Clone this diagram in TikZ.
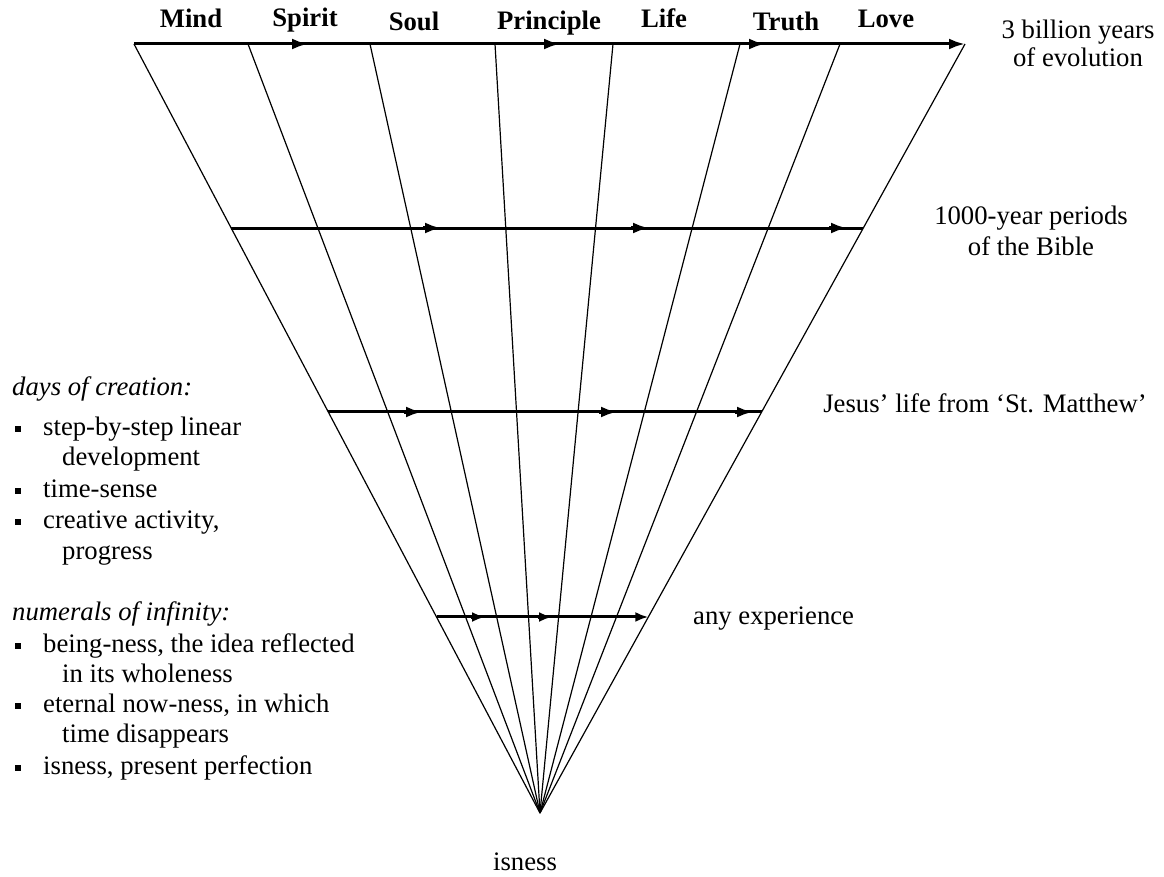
\documentclass[tikz,border=0pt]{standalone}
\usepackage{fontspec}
\setmainfont{Liberation Serif}
\usetikzlibrary{arrows.meta,calc}
\begin{document}
\begin{tikzpicture}[x=1pt,y=-1pt,
  fan/.style={line width=1.2pt},
  hline/.style={line width=3pt},
  tipA/.style={-{Latex[length=16pt,width=11pt]}},
  tipB/.style={-{Latex[length=13pt,width=10pt]}},
  txt/.style={font=\fontsize{26.7}{30}\selectfont, inner sep=0pt},
  lbl/.style={font=\fontsize{26.7}{30}\selectfont\bfseries, inner sep=0pt, anchor=base},
  itl/.style={font=\fontsize{26.7}{30}\selectfont\itshape, inner sep=0pt, anchor=base west},
  item/.style={txt, anchor=base west},
  bul/.style={fill=black, inner sep=0pt, minimum size=6.5pt, draw=none}
]
\useasboundingbox (0,0) rectangle (1164,877);

% apex and top points
\coordinate (A) at (540,813);
\coordinate (T1) at (134,44);
\coordinate (T2) at (248,44);
\coordinate (T3) at (370,44);
\coordinate (T4) at (495,44);
\coordinate (T5) at (613,44);
\coordinate (T6) at (740,44);
\coordinate (T7) at (840,44);
\coordinate (T8) at (965,44);

% fan lines
\foreach \i in {1,...,8} { \draw[fan] (A) -- (T\i); }

% top line
\coordinate (a11) at (308,44);
\coordinate (a12) at (560,44);
\coordinate (a13) at (765,44);
\draw[hline,tipA] (T1) -- (T8);
\foreach \p in {a11,a12,a13} { \draw[hline,tipA] ($(\p)+(-18,0)$) -- (\p); }

% second line
\coordinate (L2) at ($(T1)!0.2393!(A)$);
\coordinate (R2) at ($(T8)!0.2393!(A)$);
\coordinate (a21) at (441,228);
\coordinate (a22) at (649,228);
\coordinate (a23) at (847,228);
\draw[hline] (L2) -- (R2);
\foreach \p in {a21,a22,a23} { \draw[hline,tipA] ($(\p)+(-18,0)$) -- (\p); }

% third line
\coordinate (L3) at ($(T1)!0.4785!(A)$);
\coordinate (R3) at ($(T8)!0.4785!(A)$);
\coordinate (a31) at (422,412);
\coordinate (a32) at (617,412);
\coordinate (a33) at (753,412);
\draw[hline] (L3) -- (R3);
\foreach \p in {a31,a32,a33} { \draw[hline,tipA] ($(\p)+(-18,0)$) -- (\p); }

% fourth line
\coordinate (L4) at ($(T1)!0.7451!(A)$);
\coordinate (R4) at ($(T8)!0.7451!(A)$);
\coordinate (a41) at (485,617);
\coordinate (a42) at (552,617);
\draw[hline,tipB] (L4) -- (R4);
\foreach \p in {a41,a42} { \draw[hline,tipB] ($(\p)+(-14,0)$) -- (\p); }

% top labels
\node[lbl] (mind) at (191,28) {Mind};
\node[lbl] (spirit) at (305,27) {Spirit};
\node[lbl] (soul) at (414,31) {Soul};
\node[lbl] (principle) at (549,30) {Principle};
\node[lbl] (life) at (664,28) {Life};
\node[lbl] (truth) at (786,31) {Truth};
\node[lbl] (love) at (886,28) {Love};

% right texts
\node[txt,anchor=base] (ev1) at (1078,39) {3 billion years};
\node[txt,anchor=base] (ev2) at (1078,67) {of evolution};
\node[txt,anchor=base] (bib1) at (1031,225) {1000-year periods};
\node[txt,anchor=base] (bib2) at (1031,256) {of the Bible};
\node[txt,anchor=base] (jesus) at (985,412) {Jesus’ life from ‘St. Matthew’};
\node[item] (any) at (693,624) {any experience};
\node[txt,anchor=base] (isness) at (525,870) {isness};

% left block: days of creation
\node[itl] (days) at (12,395) {days of creation:};
\node[bul] (b1) at (18,429) {};
\node[item] (d1) at (43,435) {step-by-step linear};
\node[item] (d1b) at (62,465) {development};
\node[bul] (b2) at (18,491) {};
\node[item] (d2) at (43,497) {time-sense};
\node[bul] (b3) at (18,522) {};
\node[item] (d3) at (43,528) {creative activity,};
\node[item] (d3b) at (62,559) {progress};

% left block: numerals of infinity
\node[itl] (num) at (12,620) {numerals of infinity:};
\node[bul] (b4) at (18,646) {};
\node[item] (n1) at (43,652) {being-ness, the idea reflected};
\node[item] (n1b) at (62,682) {in its wholeness};
\node[bul] (b5) at (18,706) {};
\node[item] (n2) at (43,712) {eternal now-ness, in which};
\node[item] (n2b) at (62,742) {time disappears};
\node[bul] (b6) at (18,768) {};
\node[item] (n3) at (43,774) {isness, present perfection};
\end{tikzpicture}
\end{document}
